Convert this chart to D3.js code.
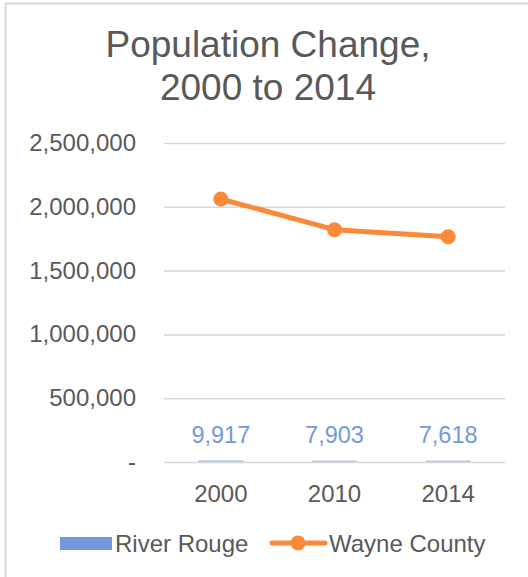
<!DOCTYPE html>
<html>
<head>
<meta charset="utf-8">
<script src="https://cdn.jsdelivr.net/npm/d3@7/dist/d3.min.js"></script>
<style>
body { margin: 0; background: #fff; }
text { font-family: "Liberation Sans", Arial, sans-serif; }
</style>
</head>
<body>
<div id="chart"></div>
<script>
var years = ["2000", "2010", "2014"];
var riverRouge = [9917, 7903, 7618];
var wayneCounty = [2061162, 1820584, 1764804];
var yTicks = [0, 500000, 1000000, 1500000, 2000000, 2500000];
var titleLines = ["Population Change,", "2000 to 2014"];

var width = 528, height = 577;
var blue = "#7399DB", orange = "#FA8A38", grey = "#595959";

var svg = d3.select("#chart").append("svg")
  .attr("width", width)
  .attr("height", height);

// chart frame
svg.append("rect")
  .attr("x", 5.5).attr("y", 3.5)
  .attr("width", width + 10).attr("height", height + 10)
  .attr("fill", "none").attr("stroke", "#d9d9d9").attr("stroke-width", 2);

svg.selectAll(".title")
  .data(titleLines)
  .enter().append("text")
  .attr("x", 268)
  .attr("y", function(d, i) { return 57 + i * 43; })
  .attr("text-anchor", "middle")
  .attr("font-size", 37)
  .attr("fill", grey)
  .text(function(d) { return d; });

var xc = d3.scaleBand().domain(years).range([164, 505]);
var y = d3.scaleLinear().domain([0, 2500000]).range([462, 143]);

var fmt = d3.format(",");

// gridlines
svg.append("g")
  .attr("transform", "translate(164,0)")
  .call(d3.axisLeft(y).tickValues(yTicks).tickSize(-341).tickFormat(""))
  .call(function(g) {
    g.select(".domain").remove();
    g.selectAll("line").attr("stroke", "#d9d9d9").attr("stroke-width", 1.5);
  });

// y labels
svg.selectAll(".ylab")
  .data(yTicks)
  .enter().append("text")
  .attr("x", 136)
  .attr("y", function(d) { return y(d) + 8; })
  .attr("text-anchor", "end")
  .attr("font-size", 24)
  .attr("fill", grey)
  .text(function(d) { return d === 0 ? "-" : fmt(d); });

// x labels
svg.selectAll(".xlab")
  .data(years)
  .enter().append("text")
  .attr("x", function(d) { return xc(d) + xc.bandwidth() / 2; })
  .attr("y", 502)
  .attr("text-anchor", "middle")
  .attr("font-size", 24)
  .attr("fill", grey)
  .text(function(d) { return d; });

// River Rouge bars
svg.selectAll(".bar")
  .data(riverRouge)
  .enter().append("rect")
  .attr("x", function(d, i) { return xc(years[i]) + xc.bandwidth() / 2 - 22.5; })
  .attr("width", 45)
  .attr("y", function(d) { return y(d) - 0.5; })
  .attr("height", function(d) { return y(0) - y(d) + 0.5; })
  .attr("fill", blue)
  .attr("opacity", 0.5);

svg.selectAll(".barlab")
  .data(riverRouge)
  .enter().append("text")
  .attr("x", function(d, i) { return xc(years[i]) + xc.bandwidth() / 2; })
  .attr("y", function(d) { return y(d) - 18; })
  .attr("text-anchor", "middle")
  .attr("font-size", 23.5)
  .attr("fill", blue)
  .text(function(d) { return fmt(d); });

// Wayne County line
var line = d3.line()
  .x(function(d, i) { return xc(years[i]) + xc.bandwidth() / 2; })
  .y(function(d) { return y(d); });

svg.append("path")
  .datum(wayneCounty)
  .attr("d", line)
  .attr("fill", "none")
  .attr("stroke", orange)
  .attr("stroke-width", 5)
  .attr("stroke-linejoin", "round");

svg.selectAll(".dot")
  .data(wayneCounty)
  .enter().append("circle")
  .attr("cx", function(d, i) { return xc(years[i]) + xc.bandwidth() / 2; })
  .attr("cy", function(d) { return y(d); })
  .attr("r", 7.5)
  .attr("fill", orange);

// legend
var lg = svg.append("g");
lg.append("rect").attr("x", 60).attr("y", 537).attr("width", 52).attr("height", 13).attr("fill", blue);
lg.append("text").attr("x", 115).attr("y", 552).attr("font-size", 24).attr("fill", grey).text("River Rouge");
lg.append("line").attr("x1", 272).attr("x2", 325).attr("y1", 543).attr("y2", 543)
  .attr("stroke", orange).attr("stroke-width", 5).attr("stroke-linecap", "round");
lg.append("circle").attr("cx", 298).attr("cy", 543).attr("r", 7.5).attr("fill", orange);
lg.append("text").attr("x", 329).attr("y", 552).attr("font-size", 24).attr("fill", grey).text("Wayne County");
</script>
</body>
</html>
